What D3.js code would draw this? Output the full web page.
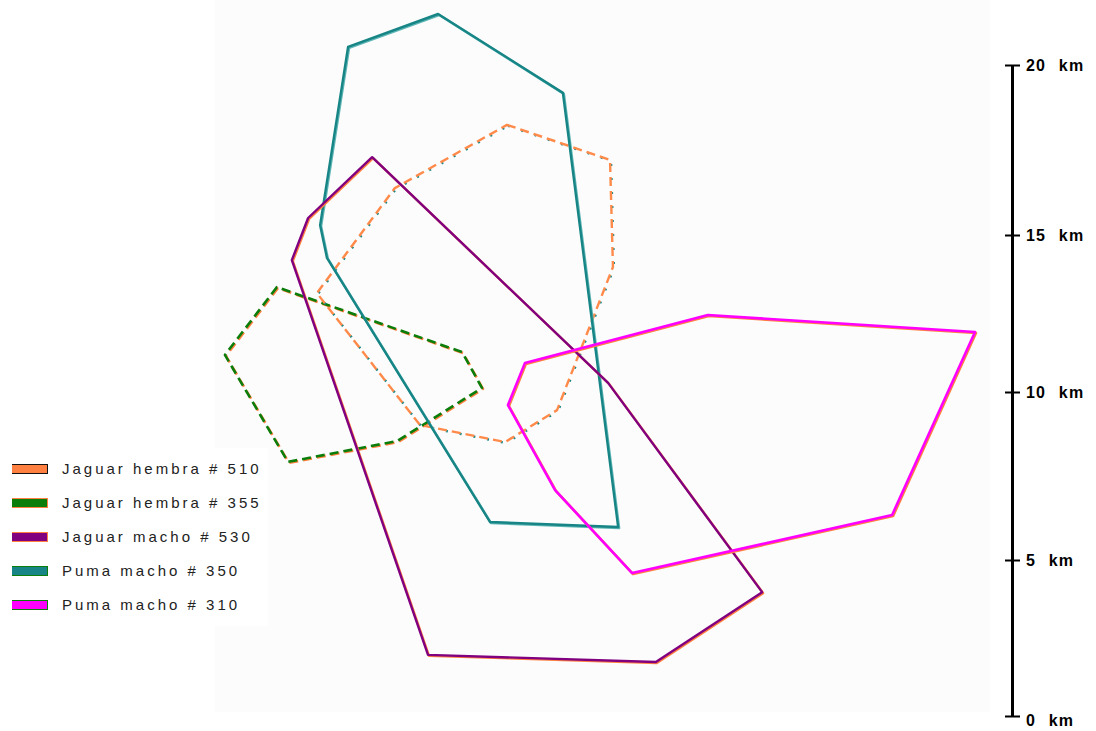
<!DOCTYPE html>
<html>
<head>
<meta charset="utf-8">
<script src="https://d3js.org/d3.v7.min.js"></script>
<style>
  body { margin: 0; background: #fff; }
  text { font-family: "Liberation Sans", Arial, sans-serif; }
</style>
</head>
<body>
<script>
// home ranges, corners in km  [x, y]
var names = ["Jaguar hembra # 510", "Jaguar hembra # 355", "Jaguar macho # 530", "Puma macho # 350", "Puma macho # 310"];

var jaguar510 = [[15.60,18.24],[18.77,17.21],[18.86,13.98],[17.14,9.46],[15.54,8.51],[12.92,9.02],[9.75,13.15],[12.15,16.38]];
var jaguar355 = [[8.52,13.34],[6.92,11.18],[8.86,7.92],[12.22,8.54],[14.83,10.13],[14.22,11.27]];
var jaguar530 = [[11.45,17.29],[9.48,15.50],[8.98,14.20],[13.17,1.96],[20.18,1.73],[23.45,3.97],[18.71,10.29]];
var puma350 = [[13.48,21.50],[17.32,19.18],[19.02,5.98],[15.08,6.13],[10.06,14.27],[9.85,15.29],[10.71,20.53]];
var puma310 = [[21.78,12.45],[30.00,11.91],[27.45,6.34],[19.45,4.58],[17.08,7.08],[15.63,9.61],[16.15,10.92]];

var kmTicks = [0, 5, 10, 15, 20];

d3.select("body").append("svg").attr("width", 1096).attr("height", 731);
var svg = d3.select("svg");

// the scan is not quite even, so the km scale is piecewise
var y = d3.scaleLinear().domain(kmTicks).range([716, 560, 392, 235, 65]);
var x = d3.scaleLinear().domain([0, 30]).range([0, 975]);

var line = d3.line()
    .x(function(d) { return x(d[0]); })
    .y(function(d) { return y(d[1]); })
    .curve(d3.curveLinearClosed);

// faint map background
svg.append("rect").attr("x", 215).attr("y", 0).attr("width", 775).attr("height", 712).attr("fill", "#fcfcfc");

var g = svg.append("g");

function poly(data, under, over, w, dash, dashUnder) {
    g.append("path").datum(data)
        .attr("fill", "none")
        .attr("stroke", under)
        .attr("stroke-width", w)
        .attr("stroke-dasharray", dashUnder)
        .attr("stroke-linejoin", "round")
        .attr("transform", "translate(1,1)")
        .attr("d", line);
    g.append("path").datum(data)
        .attr("fill", "none")
        .attr("stroke", over)
        .attr("stroke-width", w)
        .attr("stroke-dasharray", dash)
        .attr("stroke-linejoin", "round")
        .attr("d", line);
}

poly(jaguar355, "#ff8040", "#0a7d0a", 2.6, "9,5", "9,5");
poly(jaguar510, "#1a8a8a", "#ff8a4a", 2.4, "9,5", "2,12");
poly(puma350, "#5fb5b5", "#178585", 2.4, null, null);
poly(jaguar530, "#ff8040", "#800080", 2.4, null, null);
poly(puma310, "#ff8040", "#ff00ff", 2.6, null, null);

// km scale on the right
var axis = svg.append("g")
    .attr("transform", "translate(1012,0)")
    .call(d3.axisRight(y).tickValues(kmTicks).tickSizeOuter(0).tickFormat(function(d) { return d + " km"; }));

axis.select(".domain").attr("stroke", "#000").attr("stroke-width", 3);
axis.selectAll(".tick line").attr("x1", -7).attr("x2", 8).attr("stroke", "#000").attr("stroke-width", 2);
axis.selectAll(".tick text")
    .attr("x", 14)
    .attr("dy", function(d) { return d == 0 ? "0.62em" : "0.35em"; })
    .attr("fill", "#000")
    .style("font-size", "16px")
    .style("font-weight", "bold")
    .style("word-spacing", "7px")
    .style("letter-spacing", "1.2px");

// legend
var swatch = [["#ff8040", "#111"], ["#0a7d0a", "#ff8040"], ["#800080", "#ff8040"], ["#178585", "#0a7d0a"], ["#ff00ff", "#0a7d0a"]];
var legendY = [469, 503, 537, 571, 605];

var legend = svg.append("g");
legend.append("rect").attr("x", 0).attr("y", 448).attr("width", 268).attr("height", 178).attr("fill", "#fff");

var item = legend.selectAll(".item").data(names).enter().append("g")
    .attr("transform", function(d, i) { return "translate(12," + legendY[i] + ")"; });

item.append("rect").attr("x", 0).attr("y", -5).attr("width", 36).attr("height", 10)
    .attr("fill", function(d, i) { return swatch[i][1]; });
item.append("rect").attr("x", 0).attr("y", -4).attr("width", 35).attr("height", 8)
    .attr("fill", function(d, i) { return swatch[i][0]; });

item.append("text")
    .attr("x", 50)
    .attr("dy", "0.35em")
    .attr("fill", "#222")
    .style("font-size", "15px")
    .style("letter-spacing", "3px")
    .text(function(d) { return d; });
</script>
</body>
</html>
